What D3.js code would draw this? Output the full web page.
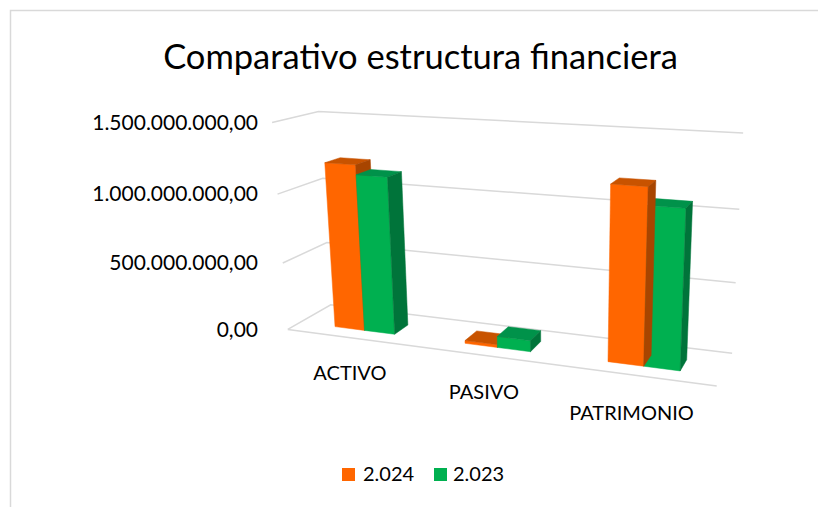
<!DOCTYPE html>
<html>
<head>
<meta charset="utf-8">
<script src="https://cdn.jsdelivr.net/npm/d3@7"></script>
<style>
  html, body { margin: 0; padding: 0; background: #fff; }
  svg { display: block; }
  text { font-family: Lato, "Open Sans", sans-serif; fill: #000; }
</style>
</head>
<body>
<div id="chart"></div>
<script>
// ---------------- DATA ----------------
const categories = ["ACTIVO", "PASIVO", "PATRIMONIO"];
const seriesNames = ["2.024", "2.023"];
const values2024 = [1210000000, 20000000, 1200000000];
const values2023 = [1140000000, 80000000, 1080000000];
const yTicks = [0, 500000000, 1000000000, 1500000000];
const yTickLabels = ["0,00", "500.000.000,00", "1.000.000.000,00", "1.500.000.000,00"];
const chartTitle = "Comparativo estructura financiera";

// ---------------- STYLE ----------------
const seriesColors = [
  { front: "#FF6600", top: "#C85300", side: "#A84500" },
  { front: "#00B050", top: "#00924A", side: "#00743A" }
];
const gridColor = "#d9d9d9";

// ---------------- LAYOUT ----------------
const W = 818, H = 507;
// projected corners of the 3-D plot box: [X, Y, Z, screenX, screenY]
// X: 0 left .. 1 right, Y: 0 floor .. 1 top of value axis, Z: 0 front .. 1 back wall
const plotBox = [
  [0, 1, 1, 318, 111], [0, 0, 1, 332, 305], [0, 1, 0, 273, 123], [0, 0, 0, 287, 329],
  [1, 1, 1, 743, 133], [1, 0, 1, 732, 353], [1, 0, 0, 717, 386],
  [0, 2/3, 0, 278, 194], [0, 2/3, 1, 322, 178], [0, 1/3, 0, 282, 263], [0, 1/3, 1, 327, 243],
  [1, 2/3, 1, 740, 209], [1, 1/3, 1, 735, 283]
];
const barZFront = 0.28, barZBack = 0.63;

function solveLinear(A, b) {
  const n = b.length;
  const M = A.map((r, i) => r.concat([b[i]]));
  for (let c = 0; c < n; c++) {
    let p = c;
    for (let r = c + 1; r < n; r++) if (Math.abs(M[r][c]) > Math.abs(M[p][c])) p = r;
    [M[c], M[p]] = [M[p], M[c]];
    for (let r = 0; r < n; r++) {
      if (r === c) continue;
      const f = M[r][c] / M[c][c];
      for (let k = c; k <= n; k++) M[r][k] -= f * M[c][k];
    }
  }
  return M.map((r, i) => r[n] / r[i]);
}
function fitCamera(pts) {
  const rows = [], rhs = [];
  pts.forEach(([X, Y, Z, u, v]) => {
    rows.push([X, Y, Z, 1, 0, 0, 0, 0, -u * X, -u * Y, -u * Z]); rhs.push(u);
    rows.push([0, 0, 0, 0, X, Y, Z, 1, -v * X, -v * Y, -v * Z]); rhs.push(v);
  });
  const n = 11;
  const AtA = Array.from({ length: n }, () => new Array(n).fill(0));
  const Atb = new Array(n).fill(0);
  rows.forEach((r, i) => {
    for (let a = 0; a < n; a++) {
      Atb[a] += r[a] * rhs[i];
      for (let c = 0; c < n; c++) AtA[a][c] += r[a] * r[c];
    }
  });
  return solveLinear(AtA, Atb);
}
const P = fitCamera(plotBox);
function project(X, Y, Z) {
  const w = P[8] * X + P[9] * Y + P[10] * Z + 1;
  return [(P[0] * X + P[1] * Y + P[2] * Z + P[3]) / w, (P[4] * X + P[5] * Y + P[6] * Z + P[7]) / w];
}
// camera centre (null space of P)
const camC = solveLinear(
  [[P[0], P[1], P[2]], [P[4], P[5], P[6]], [P[8], P[9], P[10]]],
  [-P[3], -P[7], -1]
);

// ---------------- SCALES ----------------
const yScale = d3.scaleLinear().domain([0, 1500000000]).range([0, 1]);
const x0 = d3.scaleBand().domain(categories).range([0.004, 1.004]).paddingInner(0.53).paddingOuter(0.27);
const x1 = d3.scaleBand().domain(seriesNames).range([0, x0.bandwidth()]);
const seriesValues = [values2024, values2023];

// ---------------- DRAW ----------------
const svg = d3.select("#chart").append("svg").attr("width", W).attr("height", H);
svg.append("rect").attr("width", W).attr("height", H).attr("fill", "#fff");
svg.append("rect").attr("x", 10.5).attr("y", 10.5).attr("width", 900).attr("height", 600)
  .attr("fill", "none").attr("stroke", "#d9d9d9").attr("stroke-width", 1.5);

// title
const title = svg.append("text").attr("x", 420.5).attr("y", 69).attr("text-anchor", "middle")
  .style("font-size", "32px").text(chartTitle);
const tw = title.node().getComputedTextLength();
title.style("font-size", (32 * 515 / tw) + "px");

const line = d3.line();
const grid = svg.append("g").attr("fill", "none").attr("stroke", gridColor).attr("stroke-width", 1.5);
yTicks.forEach(t => {
  const y = yScale(t);
  grid.append("path").attr("d", line([project(0, y, 0), project(0, y, 1), project(1, y, 1)]));
});
grid.append("path").attr("d", line([project(0, 0, 0), project(1, 0, 0)]));

// y tick labels
yTicks.forEach((t, i) => {
  const p = project(0, yScale(t), 0);
  svg.append("text").attr("x", 258).attr("y", p[1]).attr("dy", "0.35em")
    .attr("text-anchor", "end").style("font-size", "21px").text(yTickLabels[i]);
});

// category labels
categories.forEach(c => {
  const p = project(x0(c) + x0.bandwidth() / 2, -0.175, 0);
  svg.append("text").attr("x", p[0] - 5).attr("y", p[1]).attr("dy", "0.35em")
    .attr("text-anchor", "middle").style("font-size", "20px").text(c);
});

// bars
const bars = [];
categories.forEach((c, i) => {
  seriesNames.forEach((s, j) => {
    const xL = x0(c) + x1(s), xR = xL + x1.bandwidth();
    const yT = yScale(seriesValues[j][i]);
    const cx = (xL + xR) / 2, cz = (barZFront + barZBack) / 2;
    const d = Math.hypot(camC[0] - cx, camC[1] - yT / 2, camC[2] - cz);
    bars.push({ xL, xR, yT, j, d });
  });
});
bars.sort((a, b) => b.d - a.d);
const gBars = svg.append("g");
bars.forEach(b => {
  const zF = barZFront, zB = barZBack, col = seriesColors[b.j];
  const faces = [
    { n: [0, 0, -1], q: [b.xL, 0, zF], fill: col.front,
      pts: [[b.xL, 0, zF], [b.xR, 0, zF], [b.xR, b.yT, zF], [b.xL, b.yT, zF]] },
    { n: [0, 1, 0], q: [b.xL, b.yT, zF], fill: col.top,
      pts: [[b.xL, b.yT, zF], [b.xR, b.yT, zF], [b.xR, b.yT, zB], [b.xL, b.yT, zB]] },
    { n: [1, 0, 0], q: [b.xR, 0, zF], fill: col.side,
      pts: [[b.xR, 0, zF], [b.xR, 0, zB], [b.xR, b.yT, zB], [b.xR, b.yT, zF]] },
    { n: [-1, 0, 0], q: [b.xL, 0, zF], fill: col.side,
      pts: [[b.xL, 0, zF], [b.xL, 0, zB], [b.xL, b.yT, zB], [b.xL, b.yT, zF]] }
  ];
  faces.forEach(f => {
    const dot = (camC[0] - f.q[0]) * f.n[0] + (camC[1] - f.q[1]) * f.n[1] + (camC[2] - f.q[2]) * f.n[2];
    if (dot <= 0) return;
    gBars.append("path").attr("d", line(f.pts.map(p => project(p[0], p[1], p[2]))) + "Z")
      .attr("fill", f.fill).attr("stroke", f.fill).attr("stroke-width", 0.5).attr("stroke-linejoin", "round");
  });
});

// legend
const legend = [{ x: 342, tx: 363 }, { x: 434, tx: 453 }];
seriesNames.forEach((s, j) => {
  svg.append("rect").attr("x", legend[j].x).attr("y", 468).attr("width", 13).attr("height", 13)
    .attr("fill", seriesColors[j].front);
  svg.append("text").attr("x", legend[j].tx).attr("y", 481).style("font-size", "20px").text(s);
});
</script>
</body>
</html>
